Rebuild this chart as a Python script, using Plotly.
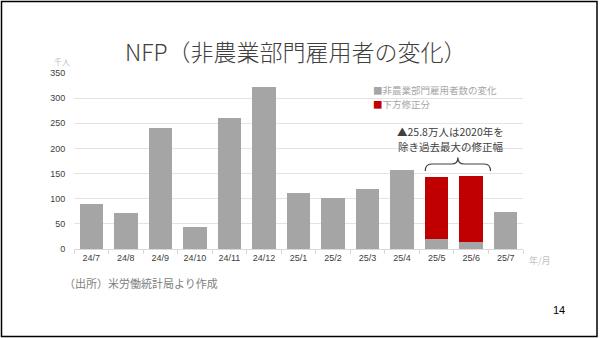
import plotly.graph_objects as go

months = ["24/7", "24/8", "24/9", "24/10", "24/11", "24/12", "25/1", "25/2", "25/3", "25/4", "25/5", "25/6", "25/7"]
nfp_change = [89, 71, 240, 44, 261, 323, 111, 102, 120, 158, 19, 13, 73]
downward_revision = [None, None, None, None, None, None, None, None, None, None, 125, 133, None]
series_names = ["非農業部門雇用者数の変化", "下方修正分"]
series_colors = ["#A5A5A5", "#C00000"]
note_lines = ["▲25.8万人は2020年を", "除き過去最大の修正幅"]

W, H = 600, 338
ML, MR, MT, MB = 74, 77, 73, 89
PW, PH = W - ML - MR, H - MT - MB

def px_x(p):
    return (p - ML) / PW

def px_y(p):
    return 1 - (p - MT) / PH

JP = "Noto Sans CJK JP"
NUM = "Liberation Sans Narrow, Arial Narrow, Liberation Sans, Arial"

fig = go.Figure()
fig.add_trace(go.Bar(x=months, y=nfp_change, name=series_names[0],
                     marker=dict(color=series_colors[0], line=dict(width=0))))
fig.add_trace(go.Bar(x=months, y=downward_revision, name=series_names[1],
                     marker=dict(color=series_colors[1], line=dict(width=0))))

# brace over revised months
i5 = months.index("25/5")
i6 = months.index("25/6")
xl, xr = i5 - 0.33, i6 + 0.56
xm = (xl + xr) / 2
yb, yh, yp = 155, 169, 182
d = 0.18
brace = (f"M {xl},{yb} Q {xl},{yh} {xl+d},{yh} L {xm-d},{yh} Q {xm},{yh} {xm},{yp} "
         f"Q {xm},{yh} {xm+d},{yh} L {xr-d},{yh} Q {xr},{yh} {xr},{yb}")

shapes = [
    dict(type="path", path=brace, xref="x", yref="y",
         line=dict(color="#404040", width=1.2)),
    dict(type="rect", xref="paper", yref="paper",
         x0=px_x(1.5), x1=px_x(597), y0=px_y(336.5), y1=px_y(1.5),
         line=dict(color="#000000", width=1.5), layer="above"),
]

annotations = [
    dict(text="NFP（非農業部門雇用者の変化）", xref="paper", yref="paper",
         x=px_x(296), y=px_y(51), showarrow=False, xanchor="center", yanchor="middle",
         font=dict(family=JP, size=23, color="#404040", weight=300)),
    dict(text="千人", xref="paper", yref="paper", x=px_x(62), y=px_y(61),
         showarrow=False, xanchor="center", yanchor="middle",
         font=dict(family=JP, size=8, color="#BFBFBF")),
    dict(text="年/月", xref="paper", yref="paper", x=px_x(527), y=px_y(260),
         showarrow=False, xanchor="left", yanchor="middle",
         font=dict(family=JP, size=9, color="#BFBFBF")),
    dict(text="（出所）米労働統計局より作成", xref="paper", yref="paper",
         x=px_x(62), y=px_y(283), showarrow=False, xanchor="left", yanchor="middle",
         font=dict(family=JP, size=11, color="#808080")),
    dict(text="14", xref="paper", yref="paper", x=px_x(559), y=px_y(310),
         showarrow=False, xanchor="center", yanchor="middle",
         font=dict(family="Liberation Sans, Arial", size=11, color="#000000")),
]

for k, line in enumerate(note_lines):
    annotations.append(dict(
        text=line, xref="paper", yref="paper", x=px_x(450), y=px_y(131.5 + 15 * k),
        showarrow=False, xanchor="center", yanchor="middle",
        font=dict(family=JP, size=10.5, color="#404040")))

# legend drawn as text entries
for k, (nm, col) in enumerate(zip(series_names, series_colors)):
    annotations.append(dict(
        text=f"<span style='color:{col}'>■</span>{nm}", xref="paper", yref="paper",
        x=px_x(371), y=px_y(90 + 14 * k), showarrow=False, xanchor="left", yanchor="middle",
        font=dict(family=JP, size=9.5, color="#A6A6A6")))

fig.update_layout(
    width=W, height=H,
    margin=dict(l=ML, r=MR, t=MT, b=MB, pad=0),
    paper_bgcolor="white", plot_bgcolor="white",
    barmode="stack", bargap=0.32,
    showlegend=False,
    shapes=shapes,
    annotations=annotations,
    xaxis=dict(type="category", tickson="boundaries", ticks="outside", ticklen=4,
               tickcolor="#D9D9D9", showline=True, linecolor="#D9D9D9", linewidth=1,
               showgrid=False, tickfont=dict(family=NUM, size=9, color="#404040")),
    yaxis=dict(range=[0, 350], dtick=50, showgrid=True, gridcolor="#E3E3E3", gridwidth=1,
               zeroline=False, showline=False, ticks="outside", ticklen=6, tickcolor="white",
               tickfont=dict(family=NUM, size=9, color="#404040")),
)

fig.write_html("out.html")
